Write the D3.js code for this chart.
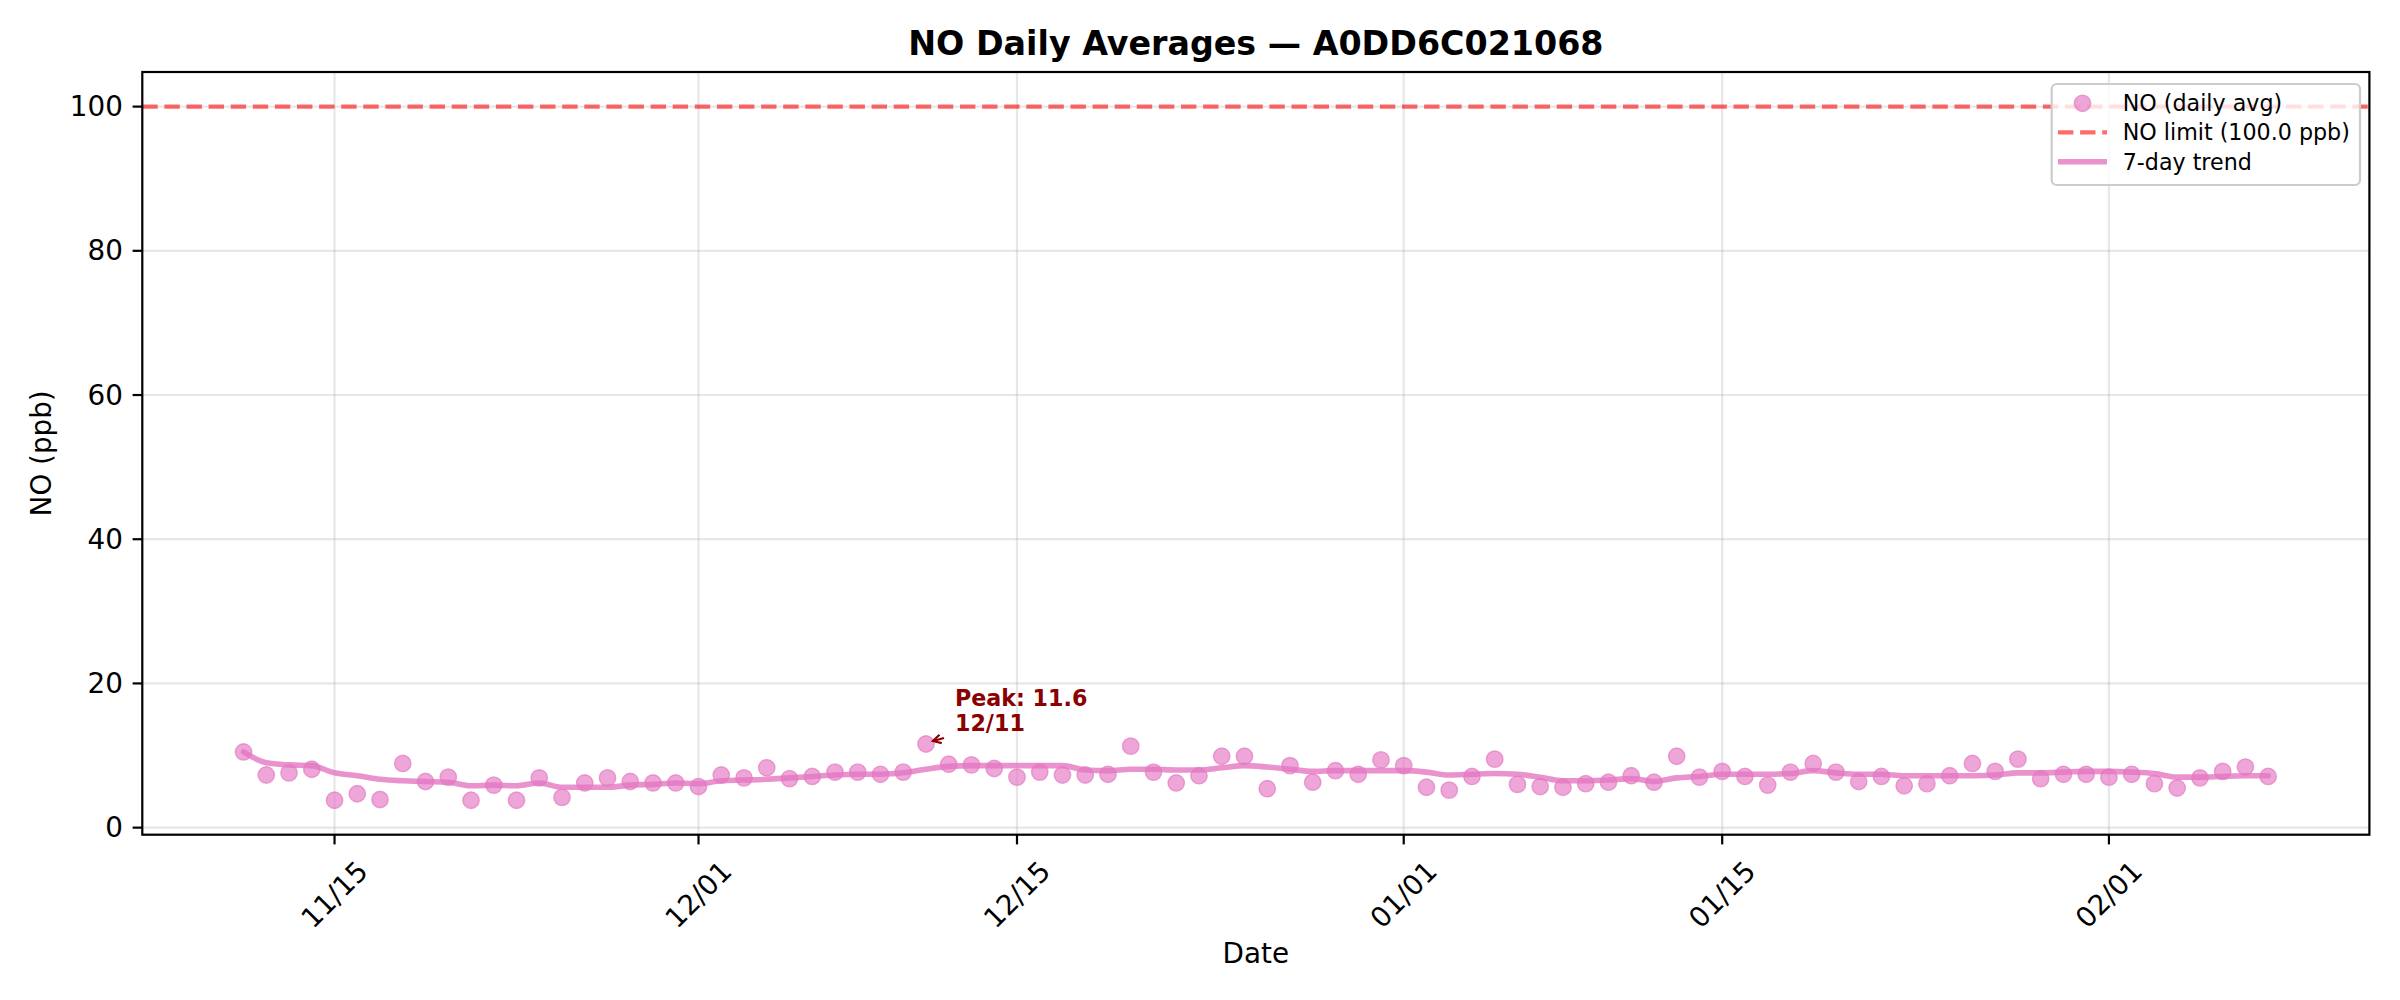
<!DOCTYPE html>
<html>
<head>
<meta charset="utf-8">
<script src="https://cdn.jsdelivr.net/npm/d3@7"></script>
<style>
  html, body { margin: 0; padding: 0; background: #ffffff; }
  svg { display: block; }
  text { font-family: "DejaVu Sans", sans-serif; }
</style>
</head>
<body>
<svg id="chart" width="2400" height="1000"></svg>
<script>
// ---------------- data ----------------
const dates = [
  "2024-11-11","2024-11-12","2024-11-13","2024-11-14","2024-11-15","2024-11-16","2024-11-17","2024-11-18","2024-11-19","2024-11-20",
  "2024-11-21","2024-11-22","2024-11-23","2024-11-24","2024-11-25","2024-11-26","2024-11-27","2024-11-28","2024-11-29","2024-11-30",
  "2024-12-01","2024-12-02","2024-12-03","2024-12-04","2024-12-05","2024-12-06","2024-12-07","2024-12-08","2024-12-09","2024-12-10",
  "2024-12-11","2024-12-12","2024-12-13","2024-12-14","2024-12-15","2024-12-16","2024-12-17","2024-12-18","2024-12-19","2024-12-20",
  "2024-12-21","2024-12-22","2024-12-23","2024-12-24","2024-12-25","2024-12-26","2024-12-27","2024-12-28","2024-12-29","2024-12-30",
  "2024-12-31",
  "2025-01-01","2025-01-02","2025-01-03","2025-01-04","2025-01-05","2025-01-06","2025-01-07","2025-01-08","2025-01-09","2025-01-10",
  "2025-01-11","2025-01-12","2025-01-13","2025-01-14","2025-01-15","2025-01-16","2025-01-17","2025-01-18","2025-01-19","2025-01-20",
  "2025-01-21","2025-01-22","2025-01-23","2025-01-24","2025-01-25","2025-01-26","2025-01-27","2025-01-28","2025-01-29","2025-01-30","2025-01-31",
  "2025-02-01","2025-02-02","2025-02-03","2025-02-04","2025-02-05","2025-02-06","2025-02-07","2025-02-08"
];

const dailyAvg = [
  10.5, 7.3, 7.6, 8.1, 3.8, 4.7, 3.9, 8.9, 6.4, 7.0,
  3.8, 5.9, 3.8, 6.9, 4.2, 6.2, 6.9, 6.4, 6.2, 6.2,
  5.7, 7.3, 6.9, 8.3, 6.8, 7.1, 7.7, 7.7, 7.4, 7.7,
  11.6, 8.8, 8.7, 8.2, 7.0, 7.7, 7.3, 7.3, 7.4, 11.3,
  7.7, 6.2, 7.2, 9.9, 9.9, 5.4, 8.6, 6.3, 7.9, 7.4,
  9.4,
  8.6, 5.6, 5.2, 7.1, 9.5, 6.0, 5.7, 5.6, 6.1, 6.3,
  7.2, 6.3, 9.9, 7.0, 7.8, 7.1, 5.9, 7.7, 8.9, 7.7,
  6.4, 7.1, 5.8, 6.1, 7.2, 8.9, 7.8, 9.5, 6.8, 7.4, 7.4,
  7.0, 7.4, 6.1, 5.5, 6.9, 7.8, 8.4, 7.1
];

const trend7 = [
  10.5, 9.0, 8.7, 8.6, 7.6, 7.2, 6.7, 6.5, 6.4, 6.3,
  5.8, 5.9, 5.8, 6.2, 5.6, 5.6, 5.6, 5.9, 6.0, 6.2,
  6.1, 6.5, 6.6, 6.7, 6.9, 7.1, 7.3, 7.4, 7.4, 7.6,
  8.1, 8.5, 8.6, 8.6, 8.6, 8.6, 8.6, 8.0, 7.9, 8.1,
  8.1, 8.0, 8.0, 8.3, 8.6, 8.4, 8.1, 7.8, 7.9, 7.9,
  7.9,
  7.9, 7.7, 7.3, 7.4, 7.5, 7.4, 7.0, 6.5, 6.5, 6.6,
  6.8, 6.4, 6.9, 7.1, 7.4, 7.4, 7.4, 7.5, 7.9, 7.6,
  7.4, 7.4, 7.2, 7.2, 7.2, 7.2, 7.3, 7.6, 7.6, 7.7, 7.8,
  7.8, 7.7, 7.5, 7.0, 7.0, 7.1, 7.2, 7.2
];

const limitValue = 100.0;
const tickDates = ["2024-11-15","2024-12-01","2024-12-15","2025-01-01","2025-01-15","2025-02-01"];
const tickLabels = ["11/15","12/01","12/15","01/01","01/15","02/01"];
const yTicks = [0, 20, 40, 60, 80, 100];
const titleText = "NO Daily Averages — A0DD6C021068";
const legendLabels = ["NO (daily avg)", "NO limit (100.0 ppb)", "7-day trend"];

// ---------------- layout ----------------
const W = 2400, H = 1000;
const plot = { left: 142.3, right: 2369.4, top: 72, bottom: 834.7 };
const pink = "#e377c2";
const parse = d3.utcParse("%Y-%m-%d");
const data = dates.map((d, i) => ({ date: parse(d), v: dailyAvg[i], t: trend7[i] }));

const svg = d3.select("#chart");
svg.append("rect").attr("width", W).attr("height", H).attr("fill", "#fff");

const ext = d3.extent(data, d => d.date);
const span = ext[1] - ext[0];
const x = d3.scaleUtc()
  .domain([new Date(+ext[0] - span * 0.05), new Date(+ext[1] + span * 0.05)])
  .range([plot.left, plot.right]);
const y = d3.scaleLinear().domain([-0.98, 104.8]).range([plot.bottom, plot.top]);

const tickVals = tickDates.map(parse);

// grid
const grid = svg.append("g").attr("stroke", "#b0b0b0").attr("stroke-opacity", 0.3).attr("stroke-width", 2.2);
grid.selectAll("line.gy").data(yTicks).join("line")
  .attr("x1", plot.left).attr("x2", plot.right)
  .attr("y1", d => y(d)).attr("y2", d => y(d));
grid.selectAll("line.gx").data(tickVals).join("line")
  .attr("x1", d => x(d)).attr("x2", d => x(d))
  .attr("y1", plot.top).attr("y2", plot.bottom);

// clip
svg.append("clipPath").attr("id", "clip").append("rect")
  .attr("x", plot.left).attr("y", plot.top)
  .attr("width", plot.right - plot.left).attr("height", plot.bottom - plot.top);

const inner = svg.append("g").attr("clip-path", "url(#clip)");

// limit line
inner.append("line")
  .attr("x1", plot.left).attr("x2", plot.right)
  .attr("y1", y(limitValue)).attr("y2", y(limitValue))
  .attr("stroke", "#ff0000").attr("stroke-opacity", 0.58)
  .attr("stroke-width", 4.2).attr("stroke-dasharray", "15.4,6.7");

// scatter
inner.append("g").selectAll("circle").data(data).join("circle")
  .attr("cx", d => x(d.date)).attr("cy", d => y(d.v)).attr("r", 8.2)
  .attr("fill", pink).attr("fill-opacity", 0.65)
  .attr("stroke", pink).attr("stroke-opacity", 0.65).attr("stroke-width", 1.4);

// trend
inner.append("path").datum(data)
  .attr("d", d3.line().x(d => x(d.date)).y(d => y(d.t)).curve(d3.curveMonotoneX))
  .attr("fill", "none").attr("stroke", pink).attr("stroke-opacity", 0.8)
  .attr("stroke-width", 5.6).attr("stroke-linejoin", "round").attr("stroke-linecap", "round");

// spines
svg.append("rect")
  .attr("x", plot.left).attr("y", plot.top)
  .attr("width", plot.right - plot.left).attr("height", plot.bottom - plot.top)
  .attr("fill", "none").attr("stroke", "#000").attr("stroke-width", 2.2);

// y axis ticks & labels
const yAxis = svg.append("g");
yAxis.selectAll("line").data(yTicks).join("line")
  .attr("x1", plot.left - 9.7).attr("x2", plot.left)
  .attr("y1", d => y(d)).attr("y2", d => y(d))
  .attr("stroke", "#000").attr("stroke-width", 2.2);
yAxis.selectAll("text").data(yTicks).join("text")
  .attr("x", plot.left - 19.4).attr("y", d => y(d))
  .attr("text-anchor", "end").attr("dominant-baseline", "central")
  .attr("font-size", 27.8).attr("fill", "#000")
  .text(d => d3.format("d")(d));

// x axis ticks & labels
const xAxis = svg.append("g");
xAxis.selectAll("line").data(tickVals).join("line")
  .attr("x1", d => x(d)).attr("x2", d => x(d))
  .attr("y1", plot.bottom).attr("y2", plot.bottom + 9.7)
  .attr("stroke", "#000").attr("stroke-width", 2.2);
xAxis.selectAll("text").data(tickVals).join("text")
  .attr("transform", d => `translate(${x(d)},${plot.bottom + 60}) rotate(-45)`)
  .attr("text-anchor", "middle").attr("dominant-baseline", "central")
  .attr("font-size", 27.8).attr("fill", "#000")
  .text((d, i) => tickLabels[i]);

// axis labels
svg.append("text")
  .attr("x", (plot.left + plot.right) / 2).attr("y", 963)
  .attr("text-anchor", "middle").attr("font-size", 27.8).attr("fill", "#000")
  .text("Date");
svg.append("text")
  .attr("transform", `translate(51,${(plot.top + plot.bottom) / 2}) rotate(-90)`)
  .attr("text-anchor", "middle").attr("font-size", 27.8).attr("fill", "#000")
  .text("NO (ppb)");

// title
svg.append("text")
  .attr("x", (plot.left + plot.right) / 2).attr("y", 55)
  .attr("text-anchor", "middle").attr("font-size", 33.3).attr("font-weight", "bold").attr("fill", "#000")
  .text(titleText);

// peak annotation
const peak = data.reduce((a, b) => (b.v > a.v ? b : a));
const px = x(peak.date), py = y(peak.v);
const darkRed = "#8b0000";
const ann = svg.append("g");
ann.append("text")
  .attr("x", px + 29).attr("y", py - 38)
  .attr("font-size", 22.2).attr("font-weight", "bold").attr("fill", darkRed)
  .text(`Peak: ${d3.format(".1f")(peak.v)}`);
ann.append("text")
  .attr("x", px + 29).attr("y", py - 13)
  .attr("font-size", 22.2).attr("font-weight", "bold").attr("fill", darkRed)
  .text(d3.utcFormat("%m/%d")(peak.date));
// arrow (->) pointing at the peak
const ax0 = px + 18, ay0 = py - 6, ax1 = px + 7, ay1 = py - 3;
ann.append("line").attr("x1", ax0).attr("y1", ay0).attr("x2", ax1).attr("y2", ay1)
  .attr("stroke", darkRed).attr("stroke-width", 2.2);
const ang = Math.atan2(ay1 - ay0, ax1 - ax0);
const hl = 9, ha = 0.5;
ann.append("path")
  .attr("d", `M${ax1 - hl * Math.cos(ang - ha)},${ay1 - hl * Math.sin(ang - ha)} L${ax1},${ay1} L${ax1 - hl * Math.cos(ang + ha)},${ay1 - hl * Math.sin(ang + ha)}`)
  .attr("fill", "none").attr("stroke", darkRed).attr("stroke-width", 2.2);

// legend
const lg = svg.append("g");
lg.append("rect")
  .attr("x", 2051.7).attr("y", 84).attr("width", 2360 - 2051.7).attr("height", 185 - 84)
  .attr("rx", 5).attr("ry", 5)
  .attr("fill", "#fff").attr("fill-opacity", 0.8)
  .attr("stroke", "#cccccc").attr("stroke-width", 2.2);
const rowsY = [103.3, 132.3, 161.7];
const hx0 = 2058, hx1 = 2107, tx = 2122.7;
lg.append("circle").attr("cx", (hx0 + hx1) / 2).attr("cy", rowsY[0]).attr("r", 8.2)
  .attr("fill", pink).attr("fill-opacity", 0.65)
  .attr("stroke", pink).attr("stroke-opacity", 0.65).attr("stroke-width", 1.4);
lg.append("line").attr("x1", hx0).attr("x2", hx1).attr("y1", rowsY[1]).attr("y2", rowsY[1])
  .attr("stroke", "#ff0000").attr("stroke-opacity", 0.58).attr("stroke-width", 4.2)
  .attr("stroke-dasharray", "15.4,6.7");
lg.append("line").attr("x1", hx0).attr("x2", hx1).attr("y1", rowsY[2]).attr("y2", rowsY[2])
  .attr("stroke", pink).attr("stroke-opacity", 0.8).attr("stroke-width", 5.6);
lg.selectAll("text").data(legendLabels).join("text")
  .attr("x", tx).attr("y", (d, i) => rowsY[i])
  .attr("dominant-baseline", "central")
  .attr("font-size", 22.2).attr("fill", "#000")
  .text(d => d);
</script>
</body>
</html>
